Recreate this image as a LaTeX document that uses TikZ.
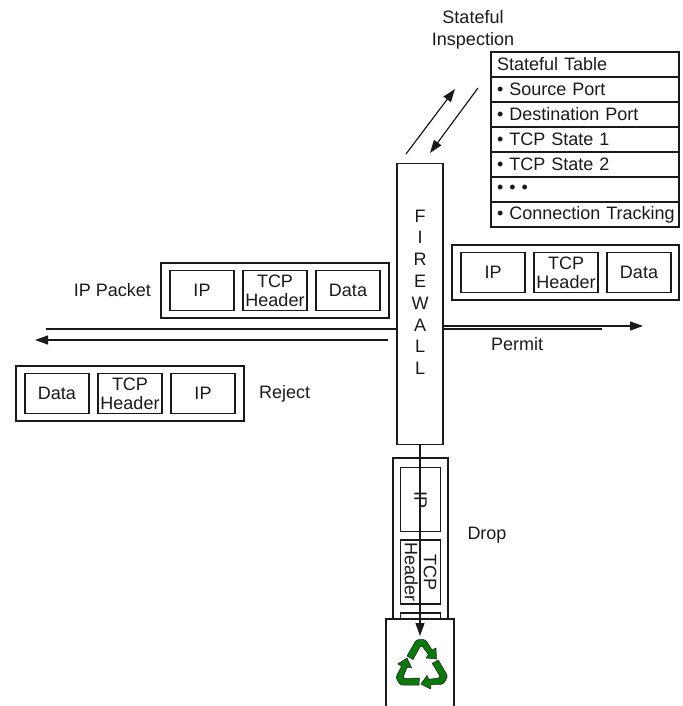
\documentclass[tikz,border=0pt]{standalone}
\usepackage{fontspec}
\setmainfont{Liberation Sans}
\usepackage{xcolor}
\usetikzlibrary{arrows.meta,positioning}
\definecolor{ink}{HTML}{1A1A1A}
\definecolor{recyc}{HTML}{0A7A0A}
\tikzset{
  cell/.style={draw=ink, line width=1.2pt, fill=white, minimum width=64pt, minimum height=39.5pt,
               inner sep=0pt, outer sep=0pt, align=center, text=ink, font=\fontsize{18}{19}\selectfont},
  pack/.style={draw=ink, line width=1.2pt, fill=white, inner sep=0pt, outer sep=0pt},
  rowbox/.style={draw=ink, line width=1.2pt, fill=white, minimum height=25pt,
                 inner sep=0pt, outer sep=0pt, text width=188pt, align=left, text=ink,
                 font=\fontsize{18}{18}\selectfont, execute at begin node={\hspace*{6pt}}},
  lab/.style={inner sep=0pt, align=center, font=\fontsize{18}{21.5}\selectfont, text=ink},
  wire/.style={draw=ink, line width=1.2pt},
  flow/.style={wire, -{Triangle[length=13pt,width=9pt]}}
}
\begin{document}
\begin{tikzpicture}[x=1pt,y=-1pt]
  \useasboundingbox (0,0) rectangle (682,706);
  % wire running behind the firewall
  \coordinate (wireL) at (46,329);
  \coordinate (wireR) at (602,329);
  \draw[wire] (wireL) -- (wireR);

  % firewall
  \node[pack, minimum width=46pt, minimum height=281pt, align=center] (fw) at (420,304) {};
  \foreach \ch [count=\i from 0] in {F,I,R,E,W,A,L,L}
    \node[lab] (fw\i) at (420,216+21.8*\i) {\ch};

  % stateful table
  \foreach \txt [count=\i from 0] in {Stateful Table,\textbullet\ Source Port,\textbullet\ Destination Port,
      \textbullet\ TCP State 1,\textbullet\ TCP State 2,\textbullet\ \textbullet\ \textbullet,\textbullet\ Connection Tracking}
    \node[rowbox] (row\i) at (585,64.5+25*\i) {\txt};
  \node[lab] (insp) at (473,30) {Stateful\\Inspection};
  \coordinate (upS) at (406,154);
  \coordinate (upT) at (455,89);
  \coordinate (dnS) at (478,88);
  \coordinate (dnT) at (430,153);
  \draw[flow] (upS) -- (upT);
  \draw[flow] (dnS) -- (dnT);

  % ip packet, left
  \node[pack, minimum width=228pt, minimum height=55pt] (pkt) at (275,290.5) {};
  \node[cell] (pktIP) at (202,290.5) {IP};
  \node[cell, right=9pt of pktIP] (pktTCP) {TCP\\Header};
  \node[cell, right=9pt of pktTCP] (pktData) {Data};
  \node[lab, left=10pt of pkt] (pktLab) {IP Packet};

  % permitted packet, right
  \node[pack, minimum width=227pt, minimum height=55pt] (okp) at (565.5,272.5) {};
  \node[cell] (okIP) at (493,272.5) {IP};
  \node[cell, right=9pt of okIP] (okTCP) {TCP\\Header};
  \node[cell, right=9pt of okTCP] (okData) {Data};
  \coordinate (permT) at (643,326);
  \draw[flow] (fw.east |- permT) -- (permT);
  \node[lab] (permLab) at (517,344) {Permit};

  % rejected packet
  \coordinate (rejS) at (388,340);
  \coordinate (rejT) at (35,340);
  \draw[flow] (rejS) -- (rejT);
  \node[pack, minimum width=228pt, minimum height=55pt] (rej) at (130,393.5) {};
  \node[cell] (rejData) at (57,393.5) {Data};
  \node[cell, right=9pt of rejData] (rejTCP) {TCP\\Header};
  \node[cell, right=9pt of rejTCP] (rejIP) {IP};
  \node[lab, right=15pt of rej.east] (rejLab) {Reject};

  % dropped packet, turned on its side
  \node[pack, minimum width=55pt, minimum height=227pt] (drp) at (420.5,571.5) {};
  \node[cell, rotate=-90] (drpIP) at (420.5,499.5) {IP};
  \node[cell, rotate=-90] (drpTCP) at (420.5,572) {TCP\\Header};
  \node[cell, rotate=-90] (drpData) at (420.5,645) {};
  \node[lab] (drpLab) at (487,535) {Drop};

  % bin, open at the bottom edge
  \node[fill=white, inner sep=0pt, outer sep=0pt, minimum width=68pt, minimum height=87pt] (bin) at (420,662.5) {};
  \draw[wire] (bin.south west) -- (bin.north west) -- (bin.north east) -- (bin.south east);
  \coordinate (binT) at (bin.north -| fw.south);
  \coordinate (binT) at ([yshift=-17pt]binT);
  \draw[flow] (fw.south) -- (binT);

  % recycling arrows
  \foreach \ang in {0,-120,-240}
    \draw[ink, line width=0.5pt, fill=recyc, rotate around={\ang:(421.5,667)}]
      (407,656) [rounded corners=2.5pt] -- (416.5,639.5) -- (425.5,639.5) [sharp corners] -- (432,650)
      -- (436,648) -- (436.5,659) -- (426,658) -- (428.5,654.5)
      [rounded corners=1pt] -- (422,646) -- (420.5,646) [sharp corners] -- (413,659.5) -- cycle;
\end{tikzpicture}
\end{document}
